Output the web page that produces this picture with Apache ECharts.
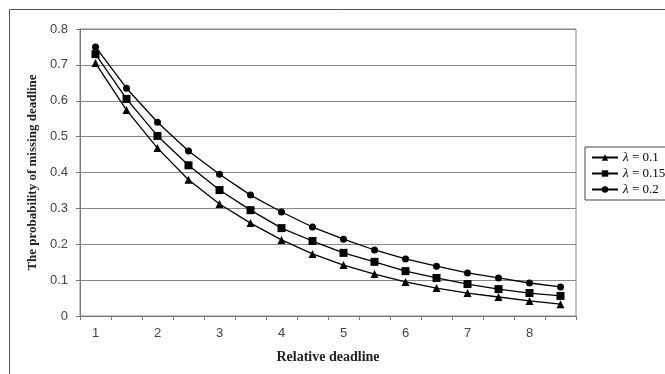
<!DOCTYPE html>
<html><head><meta charset="utf-8">
<script src="https://cdn.jsdelivr.net/npm/echarts@6/dist/echarts.min.js"></script>
<style>html,body{margin:0;padding:0;background:#fff}#c{width:665px;height:374px}</style>
</head><body><div id="c"></div>
<script>
const categories = ["1","1.5","2","2.5","3","3.5","4","4.5","5","5.5","6","6.5","7","7.5","8","8.5"];
const lambda01 = [0.705,0.574,0.468,0.38,0.312,0.259,0.212,0.173,0.142,0.117,0.095,0.078,0.064,0.053,0.042,0.033];
const lambda015 = [0.73,0.605,0.502,0.42,0.351,0.295,0.245,0.209,0.176,0.151,0.125,0.106,0.089,0.075,0.064,0.056];
const lambda02 = [0.75,0.635,0.54,0.46,0.395,0.337,0.29,0.248,0.214,0.184,0.159,0.139,0.12,0.106,0.092,0.081];
const seriesNames = ["λ = 0.1","λ = 0.15","λ = 0.2"];
const yTicks = {min:0, max:0.8, interval:0.1};

const chart = echarts.init(document.getElementById('c'), null, {renderer:'canvas'});
function mk(name, data, sym, size){
  return {name, type:'line', data, symbol:sym, symbolSize:size, smooth:false,
    lineStyle:{color:'#000', width:1.3}, itemStyle:{color:'#000'}, animation:false};
}
chart.setOption({
  animation:false,
  graphic:[{type:'rect', shape:{x:9.5,y:9.5,width:700,height:400}, style:{fill:'none', stroke:'#555', lineWidth:1}, silent:true}],
  grid:{left:80, right:89, top:29, bottom:58, show:true, borderColor:'#888', borderWidth:1},
  legend:{
    orient:'vertical', left:585, top:147, itemWidth:26, itemHeight:8, itemGap:3,
    padding:[4,6,4,6], borderColor:'#444', borderWidth:1, backgroundColor:'#fff',
    data:seriesNames,
    formatter:function(n){ return '{i|λ}' + n.slice(1); },
    textStyle:{fontFamily:'Liberation Serif', fontSize:13, color:'#000',
      rich:{i:{fontFamily:'Liberation Serif', fontStyle:'italic', fontSize:13, color:'#000'}}}
  },
  xAxis:{
    type:'category', data:categories, boundaryGap:true,
    name:'Relative deadline', nameLocation:'middle', nameGap:34,
    nameTextStyle:{fontFamily:'Liberation Serif', fontWeight:'bold', fontSize:14, color:'#222'},
    axisLine:{lineStyle:{color:'#777', width:1}},
    axisTick:{show:true, interval:0, length:4, lineStyle:{color:'#777'}},
    axisLabel:{interval:1, fontFamily:'Liberation Sans', fontSize:13, color:'#444', margin:11},
    splitLine:{show:false}
  },
  yAxis:{
    type:'value', min:yTicks.min, max:yTicks.max, interval:yTicks.interval,
    name:'The probability of missing deadline', nameLocation:'middle', nameGap:39, nameRotate:90,
    nameTextStyle:{fontFamily:'Liberation Serif', fontWeight:'bold', fontSize:13, color:'#222'},
    axisLine:{show:true, lineStyle:{color:'#777', width:1}},
    axisTick:{show:true, length:4, lineStyle:{color:'#777'}},
    axisLabel:{fontFamily:'Liberation Sans', fontSize:13, color:'#444', margin:12},
    splitLine:{show:true, lineStyle:{color:'#888', width:1}}
  },
  series:[
    mk(seriesNames[0], lambda01, 'triangle', 8),
    mk(seriesNames[1], lambda015, 'rect', 8),
    mk(seriesNames[2], lambda02, 'circle', 7)
  ]
});
</script></body></html>
